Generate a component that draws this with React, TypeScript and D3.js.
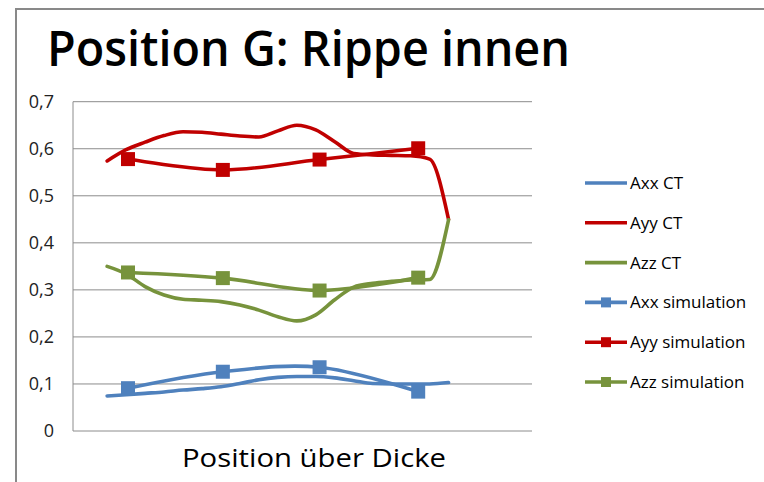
import React from "react";
import * as d3 from "d3";

const W = 764;
const H = 482;

// CT measurement positions (index along thickness)
const ctX = [0, 1, 2, 3, 4, 5, 6, 7, 8, 9, 10, 11, 12, 13, 14, 15, 16, 17, 18];
const axxCT = [0.0745, 0.077, 0.08, 0.083, 0.087, 0.09, 0.094, 0.101, 0.109, 0.114, 0.116, 0.116, 0.113, 0.107, 0.101, 0.1, 0.1, 0.1, 0.103];
const ayyCT = [0.574, 0.598, 0.614, 0.628, 0.636, 0.635, 0.631, 0.627, 0.625, 0.638, 0.65, 0.64, 0.615, 0.59, 0.587, 0.586, 0.585, 0.578, 0.45];
const azzCT = [0.35, 0.334, 0.307, 0.289, 0.28, 0.278, 0.275, 0.268, 0.257, 0.243, 0.234, 0.247, 0.279, 0.306, 0.314, 0.318, 0.321, 0.322, 0.449];

// simulation positions
const simX = [1.1, 6.1, 11.2, 16.4];
const axxSim = [0.091, 0.126, 0.1355, 0.0837];
const ayySim = [0.578, 0.555, 0.577, 0.601];
const azzSim = [0.337, 0.325, 0.2986, 0.326];

const yTicks = [0, 0.1, 0.2, 0.3, 0.4, 0.5, 0.6, 0.7];
const legendLabels = ["Axx CT", "Ayy CT", "Azz CT", "Axx simulation", "Ayy simulation", "Azz simulation"];

const BLUE = "#4F81BD";
const RED = "#C00000";
const GREEN = "#77933C";

export default function App() {
  const plot = { left: 73, right: 532, top: 101.7, bottom: 431 };
  const x = d3.scaleLinear().domain([-1.8, 22.4]).range([plot.left, plot.right]);
  const y = d3.scaleLinear().domain([0, 0.7]).range([plot.bottom, plot.top]);

  const ctLine = d3
    .line<[number, number]>()
    .x((d) => x(d[0]))
    .y((d) => y(d[1]))
    .curve(d3.curveMonotoneX);
  const simLine = d3
    .line<[number, number]>()
    .x((d) => x(d[0]))
    .y((d) => y(d[1]))
    .curve(d3.curveCardinal.tension(0));

  const ctSeries = [
    { vals: axxCT, color: BLUE },
    { vals: ayyCT, color: RED },
    { vals: azzCT, color: GREEN },
  ];
  const simSeries = [
    { vals: axxSim, color: BLUE },
    { vals: ayySim, color: RED },
    { vals: azzSim, color: GREEN },
  ];
  const legendColors = [BLUE, RED, GREEN, BLUE, RED, GREEN];
  const fmt = (v: number) => (v === 0 ? "0" : v.toFixed(1).replace(".", ","));
  const font = "'Open Sans', Lato, sans-serif";
  const ms = 14;
  const sw = 3.6;

  return (
    <svg width={W} height={H} style={{ position: "absolute", left: 0, top: 0, background: "#fff" }}>
      <rect x={0} y={0} width={W} height={H} fill="#fff" />
      {/* chart frame */}
      <path d={`M16,${H + 5} L16,9 L${W + 5},9`} fill="none" stroke="#898989" strokeWidth={2} />
      {/* title */}
      <text
        x={47}
        y={66}
        fontFamily={font}
        fontWeight={600}
        fontSize={48}
        fill="#000"
        textLength={523}
        lengthAdjust="spacingAndGlyphs"
      >
        Position G: Rippe innen
      </text>
      {/* gridlines */}
      {yTicks.map((t) => (
        <line key={t} x1={plot.left} x2={plot.right} y1={y(t)} y2={y(t)} stroke="#8c8c8c" strokeWidth={1} />
      ))}
      <line x1={plot.left} x2={plot.left} y1={plot.top} y2={plot.bottom} stroke="#8c8c8c" strokeWidth={1} />
      {yTicks.map((t) => (
        <text key={"l" + t} x={54} y={y(t) + 6} textAnchor="end" fontFamily={font} fontSize={18} fill="#222">
          {fmt(t)}
        </text>
      ))}
      {/* axis title */}
      <text
        x={182}
        y={467}
        fontFamily={font}
        fontSize={26}
        fill="#000"
        textLength={264}
        lengthAdjust="spacingAndGlyphs"
      >
        Position über Dicke
      </text>
      {/* CT lines */}
      {ctSeries.map((s, i) => (
        <path
          key={"ct" + i}
          d={ctLine(ctX.map((xx, j) => [xx, s.vals[j]] as [number, number])) || ""}
          fill="none"
          stroke={s.color}
          strokeWidth={sw}
          strokeLinecap="round"
          strokeLinejoin="round"
        />
      ))}
      {/* simulation lines */}
      {simSeries.map((s, i) => (
        <g key={"sim" + i}>
          <path
            d={simLine(simX.map((xx, j) => [xx, s.vals[j]] as [number, number])) || ""}
            fill="none"
            stroke={s.color}
            strokeWidth={sw}
            strokeLinecap="round"
          />
          {simX.map((xx, j) => (
            <rect key={j} x={x(xx) - ms / 2} y={y(s.vals[j]) - ms / 2} width={ms} height={ms} fill={s.color} />
          ))}
        </g>
      ))}
      {/* legend */}
      {legendLabels.map((lab, i) => {
        const ly = 183 + i * 39.8;
        return (
          <g key={lab}>
            <line x1={585} x2={627} y1={ly} y2={ly} stroke={legendColors[i]} strokeWidth={sw} />
            {i >= 3 && <rect x={601} y={ly - 5} width={10} height={10} fill={legendColors[i]} />}
            <text x={630} y={ly + 6} fontFamily={font} fontSize={17} fill="#000">
              {lab}
            </text>
          </g>
        );
      })}
    </svg>
  );
}
